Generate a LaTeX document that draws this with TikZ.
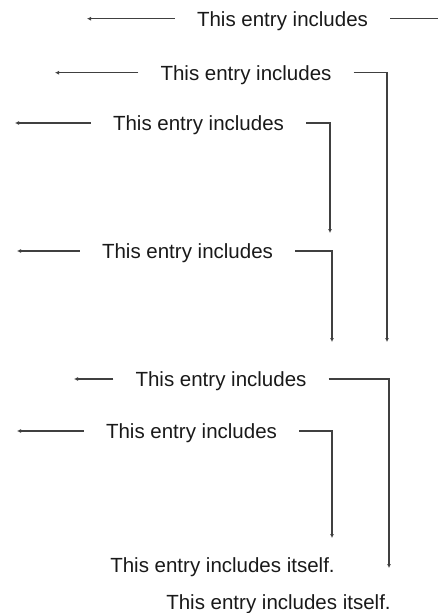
\documentclass[tikz,border=0pt]{standalone}
\usepackage{fontspec}
\setmainfont{Liberation Sans}
\usetikzlibrary{arrows.meta}

\begin{document}
\begin{tikzpicture}[x=1pt, y=-1pt,
    entry/.style={inner xsep=22pt, inner ysep=0pt, text depth=0pt, text=black!90,
                  font=\fontsize{20.5}{24}\selectfont},
    link/.style={line width=1.1pt, draw=black!75},
    linkto/.style={link, -{Latex[length=4pt, width=4pt]}}]
    \useasboundingbox (0,0) rectangle (438,613);

    % entries
    \node[entry] (e1) at (282.5,18.7) {This entry includes};
    \node[entry] (e2) at (246,72.7) {This entry includes};
    \node[entry] (e3) at (198.5,123) {This entry includes};
    \node[entry] (e4) at (187.5,251) {This entry includes};
    \node[entry] (e5) at (221,379) {This entry includes};
    \node[entry] (e6) at (191.5,431) {This entry includes};
    \node[entry] (e7) at (222.5,565) {This entry includes itself.};
    \node[entry] (e8) at (278.5,602) {This entry includes itself.};

    % free ends
    \coordinate (l1) at (87,18.7);
    \coordinate (l2) at (55,72.7);
    \coordinate (l3) at (15,123);
    \coordinate (l4) at (17,251);
    \coordinate (l5) at (74,379);
    \coordinate (l6) at (17,431);
    \coordinate (r1) at (438,18.7);
    \coordinate (d2) at (387,342);
    \coordinate (d3) at (330,233);
    \coordinate (d4) at (332,342);
    \coordinate (d5) at (389,568);
    \coordinate (d6) at (332,538);

    \draw[linkto] (e1.west) -- (l1);
    \draw[linkto] (e2.west) -- (l2);
    \draw[linkto] (e3.west) -- (l3);
    \draw[linkto] (e4.west) -- (l4);
    \draw[linkto] (e5.west) -- (l5);
    \draw[linkto] (e6.west) -- (l6);

    \draw[link] (e1.east) -- (r1);
    \draw[linkto] (e2.east) -| (d2);
    \draw[linkto] (e3.east) -| (d3);
    \draw[linkto] (e4.east) -| (d4);
    \draw[linkto] (e5.east) -| (d5);
    \draw[linkto] (e6.east) -| (d6);
\end{tikzpicture}
\end{document}
